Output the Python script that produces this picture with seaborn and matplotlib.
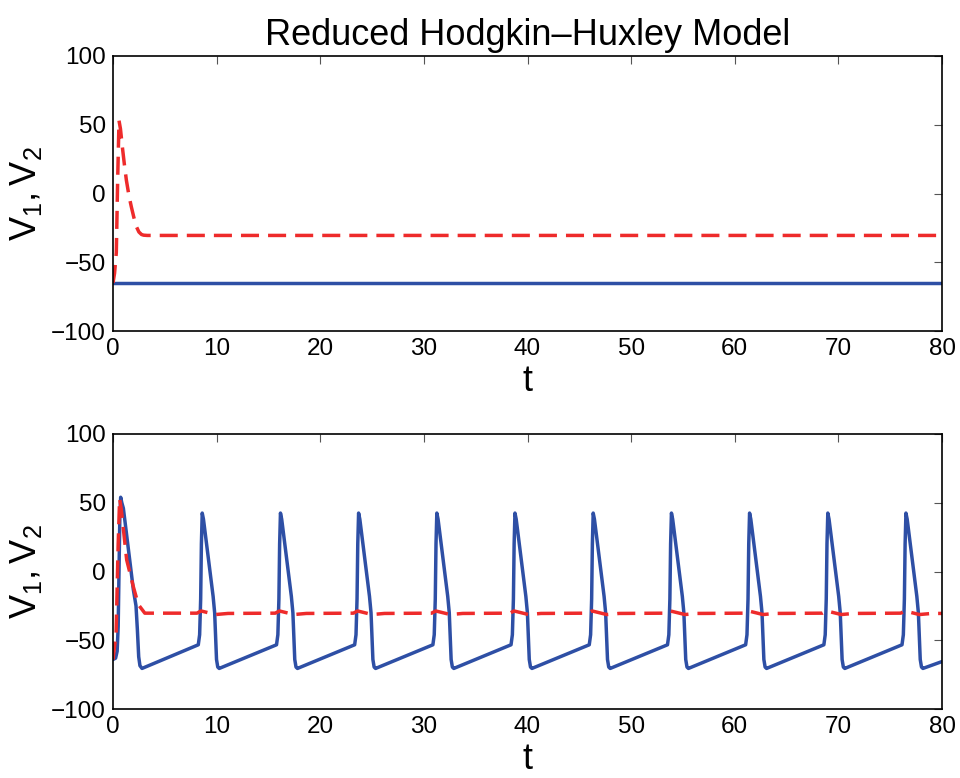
import matplotlib
matplotlib.use("Agg")
import matplotlib.pyplot as plt
import seaborn as sns
import pandas as pd

# ---------------- data ----------------
# top panel (uncoupled): V1 rests, V2 fires once then settles
top_t_v1 = [0.0, 80.0]
top_v1 = [-65.0, -65.0]

top_t_v2 = [0.0, 0.15, 0.32, 0.45, 0.58, 0.72, 0.9, 1.1, 1.29, 1.55, 1.77, 2.0,
            2.25, 2.5, 2.75, 2.95, 3.3, 80.0]
top_v2 = [-65.0, -58.0, -43.0, 10.0, 53.0, 47.0, 34.0, 21.0, 9.7, -2.0, -9.7, -17.0,
          -24.0, -28.0, -29.8, -30.3, -30.5, -30.5]

# bottom panel (coupled): V1 periodic spiking
bot_t_v1 = [0.0, 0.25, 0.4, 0.5, 0.58, 0.66, 0.74, 0.85, 1.0, 1.96, 2.22, 2.35, 2.48, 2.6, 2.8,
            8.23, 8.36, 8.46, 8.53, 8.61, 8.73, 9.66, 9.81, 9.91, 9.99, 10.11, 10.25,
            15.78, 15.91, 16.01, 16.08, 16.16, 16.28, 17.21, 17.36, 17.46, 17.54, 17.66, 17.80,
            23.32, 23.45, 23.55, 23.62, 23.70, 23.82, 24.75, 24.90, 25.00, 25.08, 25.20, 25.34,
            30.87, 31.00, 31.10, 31.17, 31.25, 31.37, 32.30, 32.45, 32.55, 32.63, 32.75, 32.89,
            38.41, 38.54, 38.64, 38.71, 38.79, 38.91, 39.84, 39.99, 40.09, 40.17, 40.29, 40.43,
            45.96, 46.09, 46.19, 46.26, 46.34, 46.46, 47.39, 47.54, 47.64, 47.72, 47.84, 47.98,
            53.51, 53.64, 53.74, 53.81, 53.89, 54.01, 54.94, 55.09, 55.19, 55.27, 55.39, 55.53,
            61.05, 61.18, 61.28, 61.35, 61.43, 61.55, 62.48, 62.63, 62.73, 62.81, 62.93, 63.07,
            68.60, 68.73, 68.83, 68.90, 68.98, 69.10, 70.03, 70.18, 70.28, 70.36, 70.48, 70.62,
            76.14, 76.27, 76.37, 76.44, 76.52, 76.64, 77.57, 77.72, 77.82, 77.90, 78.02, 78.16,
            80.0]
bot_v1 = [-64.0, -63.0, -58.0, -40.0, 0.0, 40.0, 54.0, 50.0, 46.0, -13.0, -25.0, -42.0, -62.0, -68.5, -70.5,
          -53.3, -46.0, -20.0, 20.0, 42.5, 38.0, -18.0, -30.0, -50.0, -64.0, -69.5, -70.5,
          -53.3, -46.0, -20.0, 20.0, 42.5, 38.0, -18.0, -30.0, -50.0, -64.0, -69.5, -70.5,
          -53.3, -46.0, -20.0, 20.0, 42.5, 38.0, -18.0, -30.0, -50.0, -64.0, -69.5, -70.5,
          -53.3, -46.0, -20.0, 20.0, 42.5, 38.0, -18.0, -30.0, -50.0, -64.0, -69.5, -70.5,
          -53.3, -46.0, -20.0, 20.0, 42.5, 38.0, -18.0, -30.0, -50.0, -64.0, -69.5, -70.5,
          -53.3, -46.0, -20.0, 20.0, 42.5, 38.0, -18.0, -30.0, -50.0, -64.0, -69.5, -70.5,
          -53.3, -46.0, -20.0, 20.0, 42.5, 38.0, -18.0, -30.0, -50.0, -64.0, -69.5, -70.5,
          -53.3, -46.0, -20.0, 20.0, 42.5, 38.0, -18.0, -30.0, -50.0, -64.0, -69.5, -70.5,
          -53.3, -46.0, -20.0, 20.0, 42.5, 38.0, -18.0, -30.0, -50.0, -64.0, -69.5, -70.5,
          -53.3, -46.0, -20.0, 20.0, 42.5, 38.0, -18.0, -30.0, -50.0, -64.0, -69.5, -70.5,
          -65.5]

# bottom panel: V2 fires once, then sits near -30 with small wiggles at each V1 spike
bot_t_v2 = [0.0, 0.3, 0.5, 0.64, 0.8, 1.32, 1.96, 2.44, 3.07,
            8.1, 8.5, 9.9, 11.1,
            15.66, 16.06, 17.46, 18.66,
            23.2, 23.6, 25.0, 26.2,
            30.75, 31.15, 32.55, 33.75,
            38.3, 38.7, 40.1, 41.3,
            45.84, 46.24, 47.64, 48.84,
            53.39, 53.79, 55.19, 56.39,
            60.93, 61.33, 62.73, 63.93,
            68.48, 68.88, 70.28, 71.48,
            76.02, 76.42, 77.82, 79.02,
            80.0]
bot_v2 = [-64.0, -45.0, 20.0, 53.0, 45.0, 8.5, -11.0, -24.0, -30.3,
          -30.3, -28.7, -31.3, -30.5,
          -30.3, -28.7, -31.3, -30.5,
          -30.3, -28.7, -31.3, -30.5,
          -30.3, -28.7, -31.3, -30.5,
          -30.3, -28.7, -31.3, -30.5,
          -30.3, -28.7, -31.3, -30.5,
          -30.3, -28.7, -31.3, -30.5,
          -30.3, -28.7, -31.3, -30.5,
          -30.3, -28.7, -31.3, -30.5,
          -30.3, -28.7, -31.3, -30.5,
          -30.5]

title = "Reduced Hodgkin\u2013Huxley Model"
xticks = [0, 10, 20, 30, 40, 50, 60, 70, 80]
yticks = [-100, -50, 0, 50, 100]

BLUE = "#2E4FA5"
RED = "#EE2B2B"

# ---------------- style ----------------
sns.set_theme(style="white")
plt.rcParams["font.family"] = ["Liberation Sans", "DejaVu Sans"]
plt.rcParams["mathtext.fontset"] = "custom"
plt.rcParams["mathtext.rm"] = "Liberation Sans"
plt.rcParams["mathtext.it"] = "Liberation Sans"
plt.rcParams["axes.unicode_minus"] = True
plt.rcParams["text.color"] = "black"
plt.rcParams["axes.labelcolor"] = "black"

fig = plt.figure(figsize=(9.6, 7.78), dpi=100)
ax1 = fig.add_axes([113 / 960, 1 - 331 / 778, 829 / 960, 275 / 778])
ax2 = fig.add_axes([113 / 960, 1 - 709 / 778, 829 / 960, 275 / 778])

dash = (0, (5.2, 2.6))
lw = 2.5

df_top1 = pd.DataFrame({"t": top_t_v1, "V": top_v1})
df_top2 = pd.DataFrame({"t": top_t_v2, "V": top_v2})
df_bot1 = pd.DataFrame({"t": bot_t_v1, "V": bot_v1})
df_bot2 = pd.DataFrame({"t": bot_t_v2, "V": bot_v2})

sns.lineplot(data=df_top1, x="t", y="V", ax=ax1, color=BLUE, lw=lw, estimator=None, sort=False)
sns.lineplot(data=df_top2, x="t", y="V", ax=ax1, color=RED, lw=lw, estimator=None, sort=False,
             linestyle=dash)
sns.lineplot(data=df_bot1, x="t", y="V", ax=ax2, color=BLUE, lw=lw, estimator=None, sort=False)
sns.lineplot(data=df_bot2, x="t", y="V", ax=ax2, color=RED, lw=lw, estimator=None, sort=False,
             linestyle=dash)

for ax in (ax1, ax2):
    ax.set_xlim(0, 80)
    ax.set_ylim(-100, 100)
    ax.set_xticks(xticks)
    ax.set_yticks(yticks)
    ax.set_xticklabels([str(v) for v in xticks])
    ax.set_yticklabels([str(v).replace("-", "\u2212") for v in yticks])
    ax.tick_params(direction="in", length=6, width=0.8, color="#555555",
                   top=True, right=True, labelsize=17.5, labelcolor="black")
    ax.tick_params(axis="y", pad=5)
    ax.tick_params(axis="x", pad=5)
    for s in ax.spines.values():
        s.set_visible(True)
        s.set_color("black")
        s.set_linewidth(1.2)
    ax.set_xlabel("t", fontsize=26, labelpad=3, color="black")
    ax.set_ylabel(r"$\mathregular{V_1, V_2}$", fontsize=26, labelpad=5, color="black")
    ax.grid(False)

ax1.set_title(title, fontsize=26, pad=8, color="black")

fig.savefig("out.png", dpi=100)
